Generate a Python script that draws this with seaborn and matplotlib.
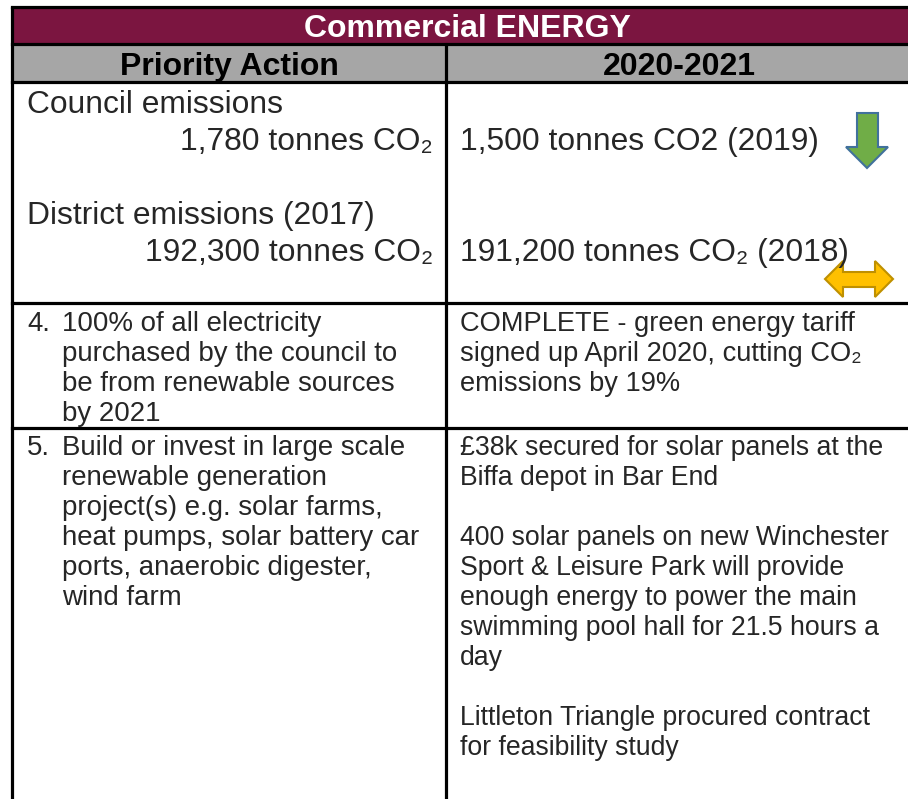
import matplotlib
matplotlib.use("Agg")
import matplotlib.pyplot as plt
import seaborn as sns
from matplotlib.patches import Rectangle, Polygon

# ---------------- data ----------------
table_title = "Commercial ENERGY"
column_headers = ["Priority Action", "2020-2021"]
emission_labels = ["Council emissions", "District emissions (2017)"]
baseline_emissions = ["1,780 tonnes CO\u2082", "192,300 tonnes CO\u2082"]
latest_emissions = ["1,500 tonnes CO2 (2019)", "191,200 tonnes CO\u2082 (2018)"]
emission_trends = ["down", "flat"]
action_numbers = ["4.", "5."]
action_texts = [
    ["100% of all electricity", "purchased by the council to",
     "be from renewable sources", "by 2021"],
    ["Build or invest in large scale", "renewable generation",
     "project(s) e.g. solar farms,", "heat pumps, solar battery car",
     "ports, anaerobic digester,", "wind farm"],
]
progress_texts = [
    ["COMPLETE - green energy tariff", "signed up April 2020, cutting CO\u2082",
     "emissions by 19%"],
    ["\u00a338k secured for solar panels at the", "Biffa depot in Bar End", "",
     "400 solar panels on new Winchester", "Sport & Leisure Park will provide",
     "enough energy to power the main", "swimming pool hall for 21.5 hours a",
     "day", "", "Littleton Triangle procured contract", "for feasibility study"],
]

# ---------------- style ----------------
sns.set_theme(style="white")
plt.rcParams["font.family"] = ["Liberation Sans", "DejaVu Sans"]
MAROON = "#7B1540"
GREY = "#A6A6A6"
LW = 2.3
BIG = 22.9
HEAD = 23
left_sizes = [19.9, 19.9]
right_sizes = [19.6, 19.2]

fig = plt.figure(figsize=(9.08, 7.99), dpi=100)
ax = fig.add_axes([0, 0, 1, 1])
ax.set_xlim(0, 908)
ax.set_ylim(799, 0)
ax.axis("off")

L, R, MID = 12, 912, 446
TOP, H1, H2, ROW4, ROW5, BOT = 7, 44, 82, 303, 428, 802

ax.add_patch(Rectangle((L, TOP), R - L, H1 - TOP, facecolor=MAROON, edgecolor="none"))
ax.add_patch(Rectangle((L, H1), R - L, H2 - H1, facecolor=GREY, edgecolor="none"))
for y in (TOP, H1, H2, ROW4, ROW5):
    ax.plot([L, R], [y, y], color="black", lw=LW, solid_capstyle="projecting")
ax.plot([L, L], [TOP, BOT], color="black", lw=LW)
ax.plot([MID, MID], [H1, BOT], color="black", lw=LW)

# headers
ax.text(467, 37, table_title, color="white", fontsize=HEAD, fontweight="bold",
        ha="center", va="baseline")
for cx, label in zip([229, 679], column_headers):
    ax.text(cx, 75, label, color="black", fontsize=HEAD, fontweight="bold",
            ha="center", va="baseline")

# emissions block
big_step = 37
for i, (lab, base, latest) in enumerate(zip(emission_labels, baseline_emissions, latest_emissions)):
    y0 = 113 + i * 3 * big_step
    ax.text(27, y0, lab, fontsize=BIG, ha="left", va="baseline")
    ax.text(433, y0 + big_step, base, fontsize=BIG, ha="right", va="baseline")
    ax.text(460, y0 + big_step, latest, fontsize=BIG, ha="left", va="baseline")

# trend arrows
for trend in emission_trends:
    if trend == "down":
        pts = [(857, 113), (878, 113), (878, 147), (888, 147), (867, 168),
               (846, 147), (857, 147)]
        ax.add_patch(Polygon(pts, closed=True, facecolor="#70AD47",
                             edgecolor="#41719C", lw=1.5))
    else:
        pts = [(825, 279), (843, 261), (843, 272), (875, 272), (875, 261),
               (893, 279), (875, 297), (875, 287), (843, 287), (843, 297)]
        ax.add_patch(Polygon(pts, closed=True, facecolor="#FFC000",
                             edgecolor="#BF9000", lw=1.5))

# action rows
step = 30
for num, lines, prog, y_start, ls, rs in zip(action_numbers, action_texts, progress_texts,
                                             [331, 455], left_sizes, right_sizes):
    ax.text(27, y_start, num, fontsize=ls, ha="left", va="baseline")
    for k, line in enumerate(lines):
        ax.text(62, y_start + k * step, line, fontsize=ls, ha="left", va="baseline")
    for k, line in enumerate(prog):
        if line:
            ax.text(460, y_start + k * step, line, fontsize=rs, ha="left", va="baseline")

fig.savefig("out.png", dpi=100, facecolor="white")
